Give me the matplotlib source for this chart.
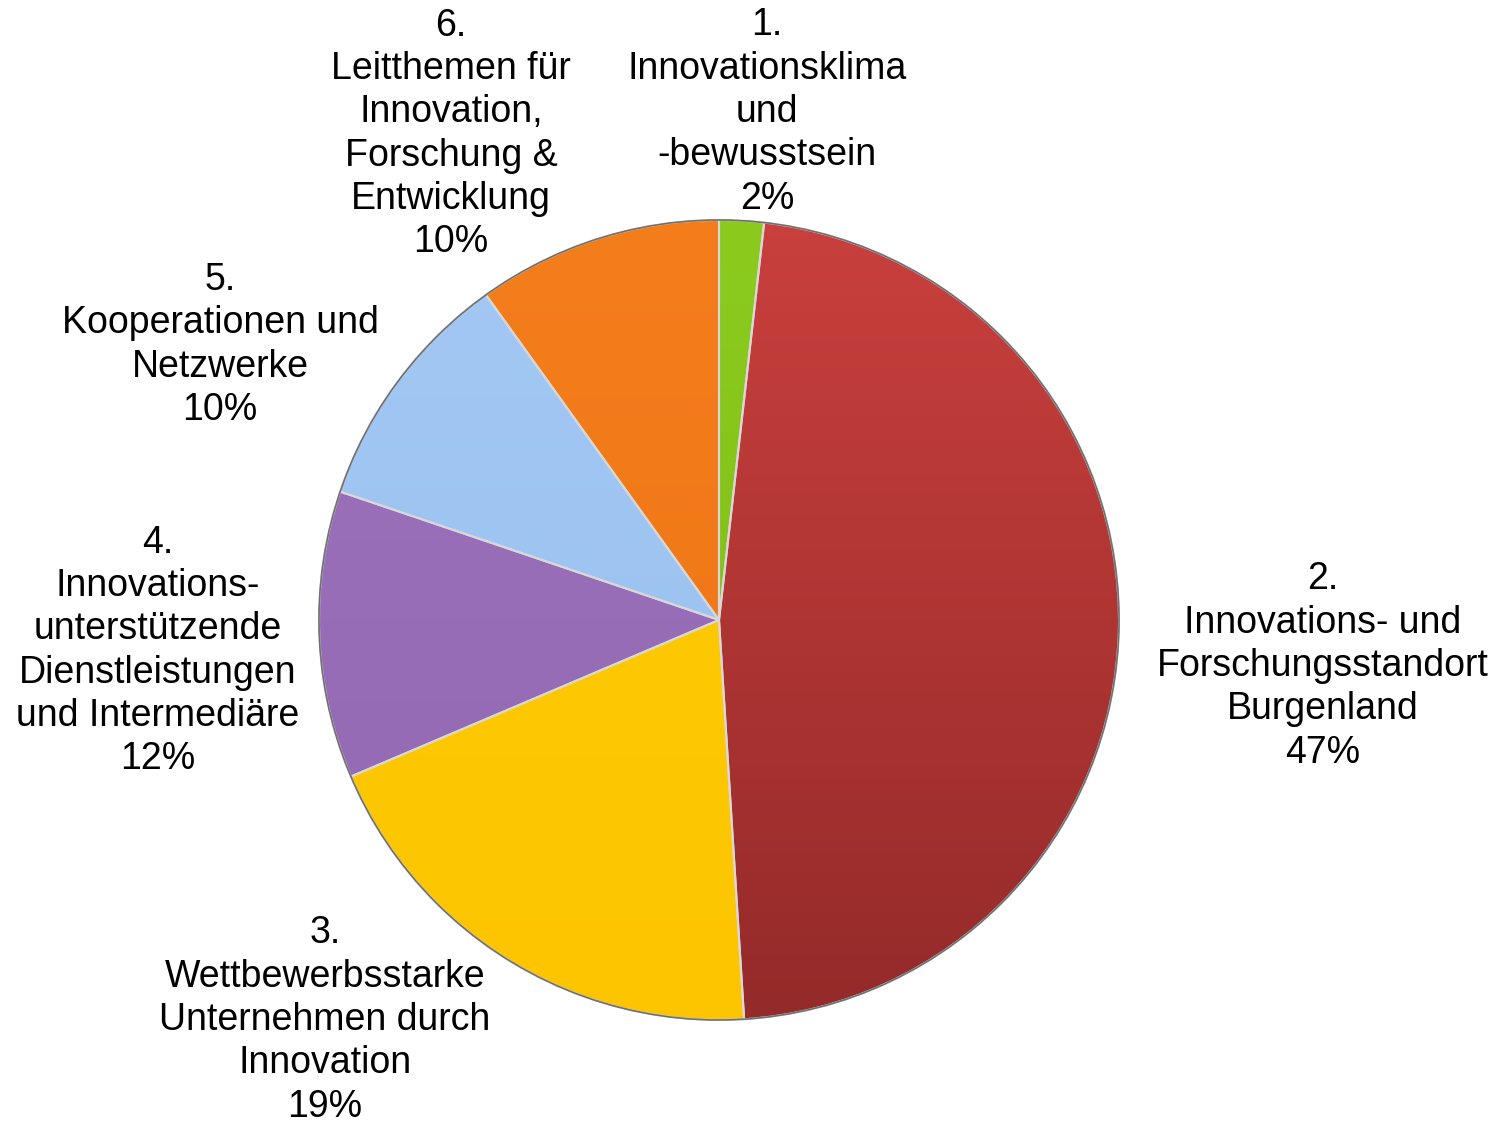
import numpy as np
import matplotlib
matplotlib.use("Agg")
import matplotlib.pyplot as plt
from matplotlib.colors import LinearSegmentedColormap

plt.rcParams['font.family'] = ['Liberation Sans', 'DejaVu Sans']

# data (clockwise from 12 o'clock)
names = [
    "1.\nInnovationsklima\nund\n-bewusstsein",
    "2.\nInnovations- und\nForschungsstandort\nBurgenland",
    "3.\nWettbewerbsstarke\nUnternehmen durch\nInnovation",
    "4.\nInnovations-\nunterstützende\nDienstleistungen\nund Intermediäre",
    "5.\nKooperationen und\nNetzwerke",
    "6.\nLeitthemen für\nInnovation,\nForschung &\nEntwicklung",
]
shares = [1.8, 47.2, 19.6, 11.6, 9.9, 9.9]
pct_labels = ["2%", "47%", "19%", "12%", "10%", "10%"]

# top / bottom colours of each slice (slight vertical shading)
top_cols = ["#8ccb1e", "#c9403d", "#ffcd05", "#9d72bc", "#a3c8f4", "#f47d1c"]
bot_cols = ["#7cb816", "#942a2a", "#fcc500", "#9268b2", "#98bfee", "#ec7414"]

# layout in pixel coordinates (y from top)
W, H = 1501, 1128
cx, cy, r = 719, 620, 400
label_pos = [(767, 112), (1323, 666), (325, 1020), (158, 651), (220, 345), (451, 134)]

fig = plt.figure(figsize=(W / 100, H / 100), dpi=100)
ax = fig.add_axes([0, 0, 1, 1])

wedges, _ = ax.pie(shares, startangle=90, counterclock=False,
                   center=(cx, H - cy), radius=r, colors=top_cols,
                   wedgeprops=dict(edgecolor="#d8d8d8", linewidth=1.5))

grad = np.linspace(0, 1, 256).reshape(-1, 1)
for w, c0, c1 in zip(wedges, top_cols, bot_cols):
    cmap = LinearSegmentedColormap.from_list("g", [c0, c1])
    im = ax.imshow(grad, cmap=cmap, extent=[cx - r, cx + r, H - cy - r, H - cy + r],
                   origin="upper", aspect="auto", zorder=w.get_zorder() + 0.1)
    im.set_clip_path(w)

# outline of the pie
circ = plt.Circle((cx, H - cy), r, fill=False, edgecolor="#707070", linewidth=1.2, zorder=5)
ax.add_patch(circ)
for w in wedges:
    w.set_zorder(4)
    w.set_facecolor("none")

for name, pct, (x, y) in zip(names, pct_labels, label_pos):
    ax.text(x, H - y, name + "\n" + pct, ha="center", va="center",
            fontsize=27, linespacing=1.26, color="black")

ax.set_xlim(0, W)
ax.set_ylim(0, H)
ax.set_aspect("equal")
ax.axis("off")

fig.savefig("out.png", dpi=100, facecolor="white")
